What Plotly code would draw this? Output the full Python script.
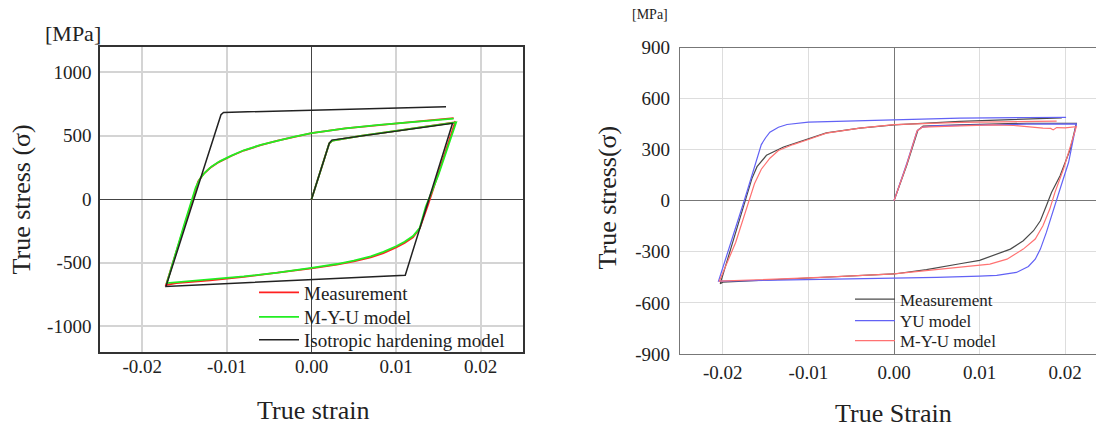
import plotly.graph_objects as go

# ---------------- Left chart data (strain, stress MPa) ----------------
left_meas_x = [0.0, 0.0010, 0.0021, 0.0025, 0.0060, 0.0100, 0.0140, 0.0169, 0.0170,
               0.0150, 0.0138, 0.0128, 0.0120, 0.0110, 0.0100, 0.0085, 0.0070, 0.0050,
               0.0030, 0.0, -0.0040, -0.0080, -0.0120, -0.0160, -0.0172,
               -0.0150, -0.0138, -0.0134, -0.0128, -0.0120, -0.0110, -0.0095, -0.0080,
               -0.0060, -0.0040, -0.0020, 0.0, 0.0040, 0.0080, 0.0120, 0.0168]
left_meas_y = [0, 210, 440, 462, 500, 537, 578, 605, 612,
               200, -40, -230, -300, -345, -380, -425, -458, -490,
               -515, -545, -580, -612, -638, -660, -675,
               -200, 70, 140, 195, 245, 290, 340, 383,
               425, 460, 492, 520, 558, 585, 608, 638]

left_myu_x = [0.0, 0.0010, 0.0021, 0.0025, 0.0060, 0.0100, 0.0140, 0.0169, 0.0171,
              0.0150, 0.0135, 0.0128, 0.0120, 0.0110, 0.0100, 0.0085, 0.0070, 0.0050,
              0.0030, 0.0, -0.0040, -0.0080, -0.0120, -0.0160, -0.0171,
              -0.0150, -0.0137, -0.0132, -0.0126, -0.0118, -0.0108, -0.0094, -0.0080,
              -0.0060, -0.0040, -0.0020, 0.0, 0.0040, 0.0080, 0.0120, 0.0168]
left_myu_y = [0, 210, 440, 462, 500, 537, 578, 603, 605,
              190, -60, -225, -290, -335, -370, -415, -450, -483,
              -510, -540, -578, -608, -632, -652, -660,
              -190, 90, 160, 210, 258, 300, 345, 385,
              427, 462, 493, 520, 557, 585, 607, 634]

left_iso_x = [0.0, 0.0021, 0.0024, 0.01667, 0.01108, -0.0172, -0.0107, -0.0104, 0.0159]
left_iso_y = [0, 440, 465, 597, -598, -686, 665, 683, 727]

# ---------------- Right chart data ----------------
right_meas_x = [0.0, 0.0015, 0.0028, 0.0034, 0.0077, 0.0116, 0.0155, 0.0213,
                0.0206, 0.0194, 0.0184, 0.0178, 0.0171, 0.0163, 0.0151, 0.0136, 0.0116,
                0.0100, 0.0077, 0.0038, 0.0, -0.0079, -0.0156, -0.0200, -0.0203,
                -0.0185, -0.0174, -0.0166, -0.0160, -0.0149, -0.0129, -0.0100, -0.0079,
                -0.0040, 0.0, 0.0077, 0.0155, 0.0196]
right_meas_y = [0, 210, 415, 438, 446, 449, 455, 455,
                304, 147, 49, -29, -118, -176, -235, -284, -323,
                -350, -370, -405, -430, -450, -466, -478, -487,
                -180, 0, 130, 200, 267, 316, 364, 399,
                427, 446, 466, 477, 487]

right_yu_x = [0.0, 0.0015, 0.0027, 0.0032, 0.0045, 0.0100, 0.0155, 0.0213,
              0.0204, 0.0194, 0.0187, 0.0178, 0.0171, 0.0165, 0.0157, 0.0143, 0.0120,
              0.0100, 0.0050, 0.0, -0.0080, -0.0155, -0.0205,
              -0.0175, -0.0155, -0.0150, -0.0145, -0.0135, -0.0125, -0.0100, -0.0040,
              0.0, 0.0077, 0.0155, 0.0201]
right_yu_y = [0, 220, 410, 430, 440, 447, 450, 452,
              226, 69, -49, -186, -284, -343, -386, -421, -438,
              -443, -450, -455, -462, -467, -472,
              0, 330, 370, 403, 432, 448, 462, 471,
              477, 485, 489, 490]

right_myu_x = [0.0, 0.0015, 0.0027, 0.0033, 0.0077, 0.0116, 0.0140, 0.0160, 0.0174,
               0.0183, 0.0186, 0.0190, 0.0200, 0.0213,
               0.0210, 0.0198, 0.0188, 0.0182, 0.0174, 0.0165, 0.0151, 0.0132, 0.0112,
               0.0100, 0.0077, 0.0038, 0.0, -0.0079, -0.0156, -0.0204,
               -0.0185, -0.0170, -0.0163, -0.0155, -0.0145, -0.0135, -0.0118, -0.0100,
               -0.0079, -0.0040, 0.0, 0.0077, 0.0155, 0.0190]
right_myu_y = [0, 215, 410, 432, 440, 446, 442, 432, 427,
               425, 416, 430, 428, 435,
               382, 186, 49, -49, -147, -225, -284, -343, -372,
               -378, -390, -409, -430, -449, -465, -472,
               -245, 0, 100, 185, 250, 295, 330, 360,
               397, 427, 447, 460, 465, 468]

# ---------------- Axis ticks ----------------
x_ticks = [-0.02, -0.01, 0.0, 0.01, 0.02]
x_tick_text = ["-0.02", "-0.01", "0.00", "0.01", "0.02"]
left_y_ticks = [-1000, -500, 0, 500, 1000]
left_y_tick_text = ["-1000", "-500", "0", "500", "1000"]
right_y_ticks = [-900, -600, -300, 0, 300, 600, 900]
right_y_tick_text = ["-900", "-600", "-300", "0", "300", "600", "900"]

FONT = "Liberation Serif, Times New Roman, serif"
W, H = 1096, 430
TXT = "#222222"

fig = go.Figure()

left_series = [
    ("Measurement", left_meas_x, left_meas_y, "#ff2020", 1.8, "legend"),
    ("M-Y-U model", left_myu_x, left_myu_y, "#22ee22", 1.8, "legend2"),
    ("Isotropic hardening model", left_iso_x, left_iso_y, "#222222", 1.5, "legend3"),
]
right_series = [
    ("Measurement", right_meas_x, right_meas_y, "#4a4a4a", 1.2, "legend4"),
    ("YU model", right_yu_x, right_yu_y, "#6262f5", 1.2, "legend5"),
    ("M-Y-U model", right_myu_x, right_myu_y, "#ff7272", 1.2, "legend6"),
]
for name, xs, ys, col, lw, lg in left_series:
    fig.add_trace(go.Scatter(x=xs, y=ys, mode="lines", name=name,
                             line=dict(color=col, width=lw), xaxis="x", yaxis="y", legend=lg))
for name, xs, ys, col, lw, lg in right_series:
    fig.add_trace(go.Scatter(x=xs, y=ys, mode="lines", name=name,
                             line=dict(color=col, width=lw), xaxis="x2", yaxis="y2", legend=lg))

tickfont = dict(family=FONT, size=19, color=TXT)

def ax(**kw):
    base = dict(tickfont=tickfont, showgrid=True, zeroline=True, ticks="",
                automargin=False, fixedrange=True, showline=True)
    base.update(kw)
    return base

def leg(xpx, ypx, size):
    return dict(x=xpx / W, y=1 - ypx / H, xanchor="left", yanchor="top",
                bgcolor="rgba(0,0,0,0)", borderwidth=0,
                font=dict(family=FONT, size=size, color=TXT), itemwidth=40)

fig.update_layout(
    width=W, height=H,
    margin=dict(l=0, r=0, t=0, b=0, autoexpand=False),
    paper_bgcolor="white", plot_bgcolor="white",
    font=dict(family=FONT, color=TXT),
    xaxis=ax(domain=[100 / W, 523 / W], range=[-0.025, 0.025], anchor="y",
             tickvals=x_ticks, ticktext=x_tick_text,
             linecolor="#333333", linewidth=1.5, mirror=True,
             gridcolor="#d4d4d4", gridwidth=1.5,
             zerolinecolor="#444444", zerolinewidth=1, ticklabelstandoff=-3),
    yaxis=ax(domain=[1 - 351.7 / H, 1 - 46.7 / H], range=[-1200, 1200], anchor="x",
             tickvals=left_y_ticks, ticktext=left_y_tick_text,
             linecolor="#333333", linewidth=1.5, mirror=True,
             gridcolor="#d4d4d4", gridwidth=1.5,
             zerolinecolor="#444444", zerolinewidth=1, ticklabelstandoff=3),
    xaxis2=ax(domain=[680 / W, 1.0], range=[-0.025, (1096 - 894) / 8560], anchor="y2",
              tickvals=x_ticks, ticktext=x_tick_text,
              linecolor="#777777", linewidth=1.2, mirror=True,
              gridcolor="#dddddd", gridwidth=1.2,
              zerolinecolor="#777777", zerolinewidth=1.2, ticklabelstandoff=1),
    yaxis2=ax(domain=[1 - 354 / H, 1 - 47.5 / H], range=[-900, 900], anchor="x2",
              tickvals=right_y_ticks, ticktext=right_y_tick_text,
              linecolor="#777777", linewidth=1.2, mirror=False,
              gridcolor="#dddddd", gridwidth=1.2,
              zerolinecolor="#777777", zerolinewidth=1.2, ticklabelstandoff=5),
    legend=leg(254, 273.5, 19),
    legend2=leg(254, 298, 19),
    legend3=leg(254, 321, 19),
    legend4=leg(850, 281.5, 17),
    legend5=leg(850, 303, 17),
    legend6=leg(850, 323, 17),
    showlegend=True,
)

annotations = [
    dict(text="[MPa]", x=72.5 / W, y=1 - 33 / H, font=dict(family=FONT, size=22, color=TXT)),
    dict(text="[MPa]", x=650 / W, y=1 - 15 / H, font=dict(family=FONT, size=14, color=TXT)),
    dict(text="True stress (σ)", x=21.5 / W, y=1 - 200 / H, textangle=-90,
         font=dict(family=FONT, size=26, color=TXT)),
    dict(text="True stress(σ)", x=606.5 / W, y=1 - 198 / H, textangle=-90,
         font=dict(family=FONT, size=26, color=TXT)),
    dict(text="True strain", x=313 / W, y=1 - 410 / H, font=dict(family=FONT, size=26, color=TXT)),
    dict(text="True Strain", x=893 / W, y=1 - 413 / H, font=dict(family=FONT, size=26, color=TXT)),
]
for a in annotations:
    a.update(xref="paper", yref="paper", showarrow=False, xanchor="center", yanchor="middle")
fig.update_layout(annotations=annotations)

fig.write_html("out.html")
